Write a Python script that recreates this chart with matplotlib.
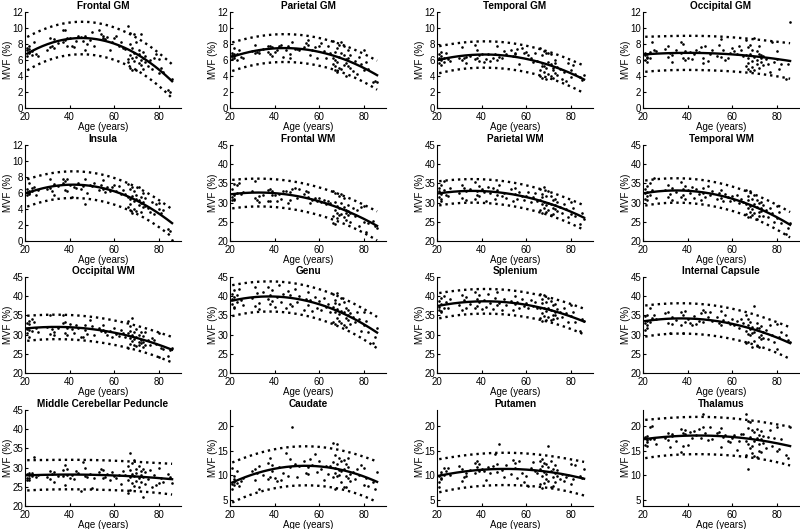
import numpy as np
import matplotlib
matplotlib.use("Agg")
import matplotlib.pyplot as plt

plt.rcParams['font.family'] = ['Liberation Sans', 'DejaVu Sans']

ages = [21,21,21,22,22,22,22,23,23,24,25,26,
        30,31,31,32,33,33,35,37,37,38,38,39,39,40,
        41,42,43,44,45,46,47,47,48,49,
        50,51,53,54,55,55,56,57,58,59,
        60,61,62,63,64,
        65,66,66,66,67,67,67,67,68,68,68,69,69,69,70,70,70,71,71,71,72,72,72,73,73,73,74,74,75,
        76,77,78,79,80,80,81,82,84,85,86]

titles = ["Frontal GM", "Parietal GM", "Temporal GM", "Occipital GM",
          "Insula", "Frontal WM", "Parietal WM", "Temporal WM",
          "Occipital WM", "Genu", "Splenium", "Internal Capsule",
          "Middle Cerebellar Peduncle", "Caudate", "Putamen", "Thalamus"]

frontal_gm = [7.5,6.5,7.2, 7.8,6.9,7.0,7.4, 7.1,6.6, 8.3, 6.8, 6.5,
    7.3,8.7,7.6,7.8,8.6,7.5,8.1,9.7,8.2,9.7,8.5,8.8,7.8,8.8,
    7.7,7.6,8.4,9.0,8.9,8.4,7.3,9.0,8.0,8.5,
    9.5,7.8,9.7,9.3,8.7,9.0,8.6,8.9,7.2,8.2,
    8.8,9.0,7.8,8.3,7.5,
    7.4, 10.2,6.1,5.8, 9.4,6.6,5.0,8.0, 7.5,4.7,6.3, 9.2,5.9,6.9, 8.3,4.8,6.4, 7.2,5.6,6.8, 9.3,6.0,5.4, 7.0,4.9,6.2, 6.5,5.7, 5.2,
    6.0,4.9,6.3,6.8,6.1,4.4,5.0,4.5,2.3,2.0,3.6]

parietal_gm = [6.1,6.6,6.9, 7.5,6.3,6.5,6.8, 6.0,6.7, 7.3, 6.4, 6.2,
    7.1,7.9,6.9,7.0,7.2,6.9,7.4,7.7,7.0,7.8,6.8,6.5,7.6,7.0,
    7.3,7.8,7.9,6.4,7.2,7.8,6.7,6.2,8.2,7.4,
    7.4,7.3,7.6,8.1,8.5,7.9,6.6,7.2,7.6,6.2,
    7.7,8.1,7.1,6.3,7.7,
    6.9, 8.4,5.5,6.3, 7.0,4.8,6.0,5.2, 7.5,4.5,5.8, 6.4,5.0,7.9, 8.2,6.9,4.9, 5.4,6.6,7.8, 4.0,6.1,5.6, 7.2,5.3,6.3, 5.0,6.6, 4.6,
    5.9,4.3,6.4,5.5,7.2,4.8,5.8,4.9,3.3,3.4,3.3]

temporal_gm = [6.2,5.6,6.8, 6.0,5.4,6.5,7.0, 6.3,5.7, 6.9, 6.1, 5.9,
    6.3,7.6,6.0,6.2,5.6,6.4,6.5,7.9,6.1,7.2,6.3,5.9,6.6,6.8,
    5.8,6.1,6.7,5.9,6.3,6.8,7.7,6.0,6.4,6.2,
    7.1,6.8,7.2,6.5,6.9,6.7,7.4,5.5,7.5,6.9,
    7.0,6.6,6.3,5.8,6.9,
    5.9, 7.5,4.8,4.0, 6.6,5.2,3.8,5.6, 7.1,4.5,5.3, 6.9,3.6,5.0, 5.8,4.2,6.9, 4.0,5.5,6.7, 5.0,3.8,4.7, 5.6,4.4,6.0, 4.1,5.1, 4.9,
    3.6,4.5,3.4,5.6,4.8,3.9,5.4,4.3,3.9,3.5,4.1]

occipital_gm = [6.6,6.0,6.9, 6.4,5.8,6.7,6.3, 7.0,6.2, 8.3, 7.2, 7.1,
    7.4,7.8,6.4,6.9,5.8,6.6,7.3,8.2,6.9,8.0,6.2,6.0,7.1,6.3,
    7.0,6.1,6.8,7.3,7.0,7.6,6.2,5.6,7.7,5.9,
    6.8,7.3,6.5,7.9,8.6,6.4,7.3,6.0,6.3,6.9,
    7.5,7.1,6.7,7.8,7.2,
    6.5, 8.5,5.3,6.6, 7.6,4.9,6.2,5.6, 7.9,4.6,6.8, 7.2,5.1,5.9, 8.7,6.4,4.8, 6.0,7.1,5.5, 5.0,6.7,7.8, 6.3,5.7,6.6, 5.4,6.5, 6.1,
    5.5,4.5,8.3,5.8,6.1,7.1,4.9,5.5,3.6,5.5,10.7]

insula = [6.1,5.7,6.5, 7.2,6.0,5.9,6.3, 6.6,6.2, 6.8, 5.8, 6.4,
    6.5,7.8,6.6,6.3,7.1,5.7,6.9,7.8,7.2,7.5,6.4,7.7,6.2,7.0,
    5.5,6.8,6.6,7.2,6.5,6.9,4.6,7.8,6.0,7.0,
    6.9,7.2,6.4,7.0,7.6,6.5,6.1,6.7,6.3,6.8,
    7.0,6.2,6.9,5.9,6.4,
    5.9, 7.1,4.3,5.5, 6.5,3.9,5.2,4.6, 6.8,3.5,5.6, 5.0,4.0,6.3, 5.7,3.8,5.2, 4.5,6.7,5.1, 3.6,5.5,4.8, 6.0,4.2,4.9, 4.4,5.4, 4.1,
    3.6,4.9,3.4,4.6,4.7,4.0,3.5,3.9,1.5,1.3,0.1]

frontal_wm = [30.8,31.5,33.5, 34.8,30.6,32.0,31.0, 34.5,32.6, 35.2, 32.3, 32.8,
    32.9,35.5,31.3,30.8,30.2,31.6,31.9,30.4,33.4,33.6,30.5,32.1,33.0,31.9,
    30.4,32.3,31.0,33.0,33.1,29.9,30.8,32.8,33.6,33.8,
    31.2,33.5,32.3,33.0,32.7,31.5,29.8,30.6,31.2,30.3,
    31.2,30.2,30.8,29.6,30.5,
    30.0, 33.0,26.5,24.8, 32.5,28.0,24.3,30.2, 29.0,26.0,27.3, 31.7,26.8,28.5, 32.3,27.0,29.8, 26.2,28.8,31.2, 27.3,25.5,28.0, 29.5,26.8,27.8, 25.0,27.4, 28.5,
    26.5,28.0,24.0,28.8,29.0,25.0,22.3,24.6,25.3,24.0,23.5]

parietal_wm = [31.5,33.8,32.9, 31.0,34.5,32.2,30.5, 33.3,35.5, 32.0, 31.6, 33.9,
    32.4,34.6,31.3,33.8,30.7,32.9,33.5,31.0,35.3,33.0,32.1,34.4,31.8,33.6,
    32.7,30.5,34.0,32.4,33.8,30.9,33.2,32.0,34.7,31.6,
    32.6,31.2,33.5,30.4,32.3,33.9,31.0,32.8,31.6,30.7,
    31.8,32.7,30.2,31.4,32.6,
    30.5, 33.6,28.0,30.8, 32.2,27.4,29.6,31.4, 34.0,28.6,30.1, 27.5,31.6,29.4, 33.1,28.2,30.0, 26.9,29.7,31.8, 28.6,30.6,27.0, 31.0,28.3,29.4, 27.8,30.2, 28.9,
    27.2,29.6,28.3,26.2,30.2,27.0,28.5,26.5,24.4,27.2,25.6]

temporal_wm = [31.0,33.6,32.5, 34.2,30.8,32.8,31.7, 35.0,32.0, 33.4, 36.5, 31.2,
    33.2,31.5,34.6,32.3,30.6,33.9,32.7,35.3,31.4,33.5,32.0,34.2,31.0,33.4,
    32.5,34.1,31.3,33.6,32.2,30.8,33.9,32.6,31.5,34.3,
    32.0,33.1,30.9,32.6,31.2,33.4,30.5,32.3,31.5,30.3,
    31.7,30.6,32.1,29.8,31.0,
    30.2, 33.2,27.0,29.6, 31.8,26.3,28.7,30.6, 33.0,27.6,29.2, 26.8,30.9,28.4, 32.0,27.2,29.6, 25.8,28.9,30.8, 27.5,29.9,26.4, 30.2,27.8,28.5, 26.6,29.4, 28.0,
    26.3,28.6,27.4,25.0,29.1,26.0,27.5,24.8,21.8,23.4,24.6]

occipital_wm = [30.5,32.9,31.5, 32.8,29.5,31.2,33.5, 34.0,31.0, 33.3, 31.8, 30.8,
    32.0,35.0,30.2,31.5,30.8,29.8,31.6,35.0,33.0,33.2,30.5,31.8,29.9,32.8,
    31.4,30.3,32.5,31.8,29.3,29.3,31.2,32.4,30.1,33.8,
    32.3,30.0,31.8,30.9,32.5,31.1,30.6,29.8,31.0,29.5,
    31.8,30.2,29.6,31.3,30.5,
    29.4, 33.5,26.5,30.5, 32.2,27.6,29.0,30.9, 34.2,28.3,29.9, 27.3,30.6,28.8, 31.5,27.0,29.4, 28.2,30.0,27.2, 30.8,27.8,28.6, 29.6,26.8,28.0, 30.7,27.4, 28.7,
    27.3,29.0,28.6,27.6,30.5,24.2,26.5,26.2,24.5,26.0,26.4]

genu = [38.0,40.6,39.2, 41.5,37.3,39.8,36.8, 40.2,38.5, 42.0, 39.0, 37.8,
    39.6,42.3,37.5,40.8,38.2,36.6,41.0,39.3,42.5,37.9,40.4,38.8,41.6,37.2,
    39.9,42.8,38.4,40.7,36.9,41.3,38.0,40.2,37.4,41.9,
    38.6,40.0,36.5,39.4,41.2,37.6,38.9,36.2,39.7,37.0,
    38.8,36.4,39.5,37.3,38.0,
    36.0, 40.5,33.4,37.2, 39.0,32.8,35.8,38.2, 40.8,34.2,36.6, 33.5,38.0,35.4, 39.6,33.0,36.2, 32.5,35.8,38.5, 34.2,37.0,32.0, 36.4,33.8,35.0, 32.8,35.6, 34.6,
    33.2,35.9,34.0,31.0,36.0,32.4,33.5,30.8,27.8,29.5,31.8]

splenium = [36.5,38.8,37.2, 39.6,35.8,38.0,36.2, 40.0,37.0, 38.5, 36.8, 39.2,
    37.6,40.4,36.3,38.9,37.0,39.8,38.0,41.0,36.9,39.3,37.5,40.2,38.4,36.6,
    39.0,37.2,40.5,38.1,36.7,39.6,37.8,41.2,38.3,36.4,
    39.4,37.6,38.8,36.5,40.0,37.9,38.6,36.8,39.2,37.4,
    38.2,36.9,39.0,37.5,38.5,
    37.0, 40.5,34.2,36.8, 39.3,33.6,35.7,38.1, 40.2,34.8,37.0, 33.9,38.4,36.2, 39.6,34.5,36.9, 33.8,36.3,38.8, 35.2,37.6,34.0, 37.9,35.0,36.0, 34.3,36.6, 35.8,
    34.6,37.0,35.5,33.2,37.6,34.8,35.9,33.4,31.0,34.0,33.6]

internal_capsule = [31.3,33.0,34.8, 35.2,31.8,33.6,32.4, 36.8,33.2, 34.2, 35.0, 34.0,
    35.5,36.0,33.0,30.5,32.7,34.6,33.8,36.0,32.6,30.5,35.2,36.2,33.4,34.0,
    33.0,32.4,34.8,32.8,33.6,35.7,36.4,33.2,36.0,34.5,
    36.0,33.5,34.7,32.9,36.2,32.4,33.9,35.0,33.3,32.7,
    34.1,32.5,33.6,31.6,34.0,
    33.0, 35.2,27.8,31.0, 34.0,28.0,30.2,32.4, 33.2,29.8,31.5, 26.8,32.0,30.4, 37.5,28.4,30.8, 27.0,31.6,33.0, 29.5,31.8,26.8, 30.0,28.8,32.2, 29.2,30.6, 31.2,
    28.8,32.6,30.0,28.0,32.8,26.2,29.5,30.8,30.0,28.5,28.0]

mcp = [26.9,28.3,27.4, 28.7,27.2,28.0,26.8, 27.8,28.5, 32.7, 27.6, 28.1,
    27.5,29.0,27.0,28.4,26.3,28.9,27.8,29.5,27.9,30.8,25.5,29.6,28.2,27.3,
    28.0,27.1,29.2,28.6,23.8,31.5,27.7,29.9,27.5,28.3,
    24.6,27.4,28.8,29.6,27.2,29.3,27.6,28.4,26.9,28.9,
    27.8,27.3,28.2,25.7,29.0,
    28.0, 30.5,23.5,26.8, 33.7,24.2,27.6,29.4, 31.2,26.0,28.3, 25.3,32.0,27.9, 29.6,26.4,28.6, 24.9,30.5,27.2, 29.0,26.2,28.1, 22.3,27.5,29.7, 25.6,28.8, 27.0,
    29.3,24.9,28.0,25.5,29.8,26.0,27.3,26.3,28.3,27.6,26.0]

caudate = [8.3,11.5,7.2, 9.8,8.1,8.7,9.2, 10.9,8.5, 7.9, 8.8, 9.5,
    10.8,9.0,11.2,10.5,7.2,11.8,10.0,12.4,9.3,13.4,9.6,10.9,12.0,9.4,
    8.8,11.6,9.0,10.4,14.6,9.8,13.2,11.7,19.7,12.2,
    9.6,11.8,12.8,10.5,11.6,10.2,13.3,12.0,14.3,10.6,
    12.8,11.2,9.0,11.8,10.3,
    11.9, 16.5,9.7,12.6, 14.2,7.3,10.4,11.5, 16.3,9.9,12.3, 10.1,13.5,11.0, 12.9,8.6,10.8, 7.6,13.0,11.3, 9.8,12.2,7.7, 11.6,9.4,13.6, 10.3,8.9, 10.7,
    9.2,11.3,10.0,12.0,8.0,11.4,9.5,7.8,8.6,7.2,10.6]

putamen = [7.6,9.9,8.6, 10.3,9.2,10.7,9.5, 11.5,10.0, 10.9, 11.4, 10.1,
    11.8,8.8,11.2,9.6,10.5,9.8,11.0,12.5,10.4,11.6,12.8,10.9,12.2,11.3,
    10.8,9.0,11.7,10.5,11.9,14.3,10.7,12.3,16.3,11.0,
    9.6,12.0,10.2,13.1,12.5,11.5,9.4,12.9,10.4,8.6,
    9.8,7.9,11.4,12.6,10.8,
    10.5, 12.8,8.3,11.3, 13.2,7.5,9.8,11.8, 12.5,8.5,10.6, 9.3,12.2,10.2, 15.9,8.9,11.6, 7.6,10.9,12.8, 9.6,11.3,7.8, 10.4,8.6,12.1, 9.9,11.0, 9.2,
    10.3,8.9,9.7,10.0,8.2,12.2,9.3,12.1,9.8,9.5,11.2]

thalamus = [17.8,16.2,17.5, 16.7,18.0,17.2,15.9, 19.7,17.3, 19.9, 17.4, 16.4,
    17.6,18.5,17.2,15.8,17.9,18.3,17.0,19.3,14.8,18.6,16.0,19.1,18.4,16.2,
    18.8,17.5,19.0,18.2,19.4,17.6,22.4,19.8,18.6,17.1,
    19.8,17.3,18.5,18.8,15.8,19.5,17.8,18.1,17.0,16.8,
    17.5,18.2,15.2,16.9,18.3,
    18.4, 22.4,14.2,17.0, 21.0,11.2,16.4,19.5, 20.8,15.6,17.8, 16.0,19.2,14.5, 18.7,13.9,16.9, 13.8,17.6,19.3, 15.0,18.2,16.4, 17.3,14.8,19.0, 16.6,18.0, 15.5,
    17.7,19.1,16.0,17.5,19.8,14.9,15.3,17.3,14.2,13.5,19.7]

series = [frontal_gm, parietal_gm, temporal_gm, occipital_gm,
          insula, frontal_wm, parietal_wm, temporal_wm,
          occipital_wm, genu, splenium, internal_capsule,
          mcp, caudate, putamen, thalamus]

gm_ticks = [0, 2, 4, 6, 8, 10, 12]
wm_ticks = [20, 25, 30, 35, 40, 45]
deep_ticks = [5, 10, 15, 20]
x_ticks = [20, 40, 60, 80]
yticks_list = [gm_ticks]*5 + [wm_ticks]*8 + [deep_ticks]*3
ylims = [(0, 12)]*5 + [(20, 45)]*8 + [(3.8, 23.2)]*3

fig = plt.figure(figsize=(8, 5.29), dpi=100)
W, H = 800, 529
col_left = [25, 230, 437, 643]
row_top = [12, 145, 277, 410]
aw, ah = 156, 96

x = np.asarray(ages, float)
X = np.column_stack([np.ones_like(x), x, x**2])
xx = np.linspace(x.min(), x.max(), 200)
XX = np.column_stack([np.ones_like(xx), xx, xx**2])
tval = 1.987

for i, (title, vals) in enumerate(zip(titles, series)):
    r, c = divmod(i, 4)
    ax = fig.add_axes([col_left[c]/W, 1 - (row_top[r] + ah)/H, aw/W, ah/H])
    y = np.asarray(vals, float)
    beta, *_ = np.linalg.lstsq(X, y, rcond=None)
    resid = y - X @ beta
    n, p = X.shape
    s = np.sqrt(np.sum(resid**2) / (n - p))
    XtXi = np.linalg.inv(X.T @ X)
    h = np.einsum('ij,jk,ik->i', XX, XtXi, XX)
    yfit = XX @ beta
    half = tval * s * np.sqrt(1 + h)
    ax.plot(x, y, '.', color='black', markersize=3.8, markeredgewidth=0)
    ax.plot(xx, yfit, '-', color='black', lw=1.7)
    ax.plot(xx, yfit + half, ':', color='black', lw=1.7)
    ax.plot(xx, yfit - half, ':', color='black', lw=1.7)
    ax.set_xlim(20, 90)
    ax.set_ylim(*ylims[i])
    ax.set_xticks(x_ticks)
    ax.set_yticks(yticks_list[i])
    ax.spines['top'].set_visible(False)
    ax.spines['right'].set_visible(False)
    ax.spines['left'].set_linewidth(0.8)
    ax.spines['bottom'].set_linewidth(0.8)
    ax.tick_params(direction='in', length=2.5, width=0.8, labelsize=7, pad=1.2)
    ax.tick_params(axis='x', pad=3.2)
    ax.set_title(title, fontsize=7.2, fontweight='bold', pad=2)
    ax.set_xlabel('Age (years)', fontsize=7, labelpad=0)
    ax.set_ylabel('MVF (%)', fontsize=7)
    ax.yaxis.set_label_coords(-0.077, 0.5)

fig.savefig('out.png', dpi=100)
